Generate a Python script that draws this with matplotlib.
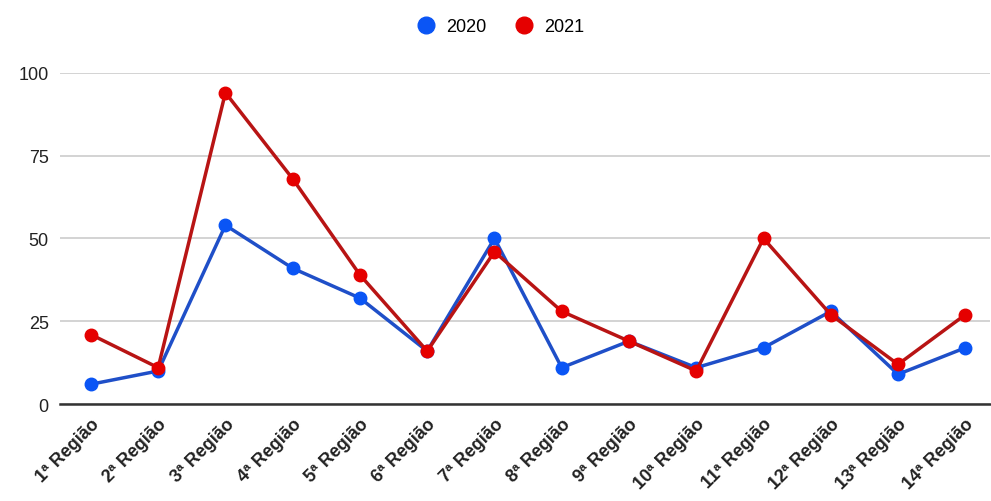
import matplotlib.pyplot as plt

regions = [f'{i}ª Região' for i in range(1, 15)]
values_2020 = [6, 10, 54, 41, 32, 16, 50, 11, 19, 11, 17, 28, 9, 17]
values_2021 = [21, 11, 94, 68, 39, 16, 46, 28, 19, 10, 50, 27, 12, 27]
y_ticks = [0, 25, 50, 75, 100]

plt.rcParams['font.family'] = ['Liberation Sans', 'DejaVu Sans']

fig = plt.figure(figsize=(9.91, 5.02), dpi=100)
ax = fig.add_axes([0.0605, 0.193, 0.938, 0.66])

x = range(len(regions))
ax.plot(x, values_2020, color='#1f4fc8', linewidth=2.5, marker='o', markersize=9,
        markerfacecolor='#0a55f5', markeredgecolor='#0a55f5', label='2020', clip_on=False, zorder=3)
ax.plot(x, values_2021, color='#b81414', linewidth=2.5, marker='o', markersize=9,
        markerfacecolor='#e50000', markeredgecolor='#e50000', label='2021', clip_on=False, zorder=4)

ax.set_xlim(-0.46, 13.36)
ax.set_ylim(0, 100)
ax.set_yticks(y_ticks)
ax.set_yticklabels([str(t) for t in y_ticks], fontsize=13, color='#222222')
ax.set_xticks(list(x))
ax.set_xticklabels(regions, rotation=45, ha='right', rotation_mode='anchor',
                   fontsize=13, fontweight='bold', color='#222222')
ax.tick_params(axis='both', length=0, pad=8)

ax.grid(axis='y', color='#cccccc', linewidth=1.2)
ax.set_axisbelow(True)
for side in ['top', 'right', 'left']:
    ax.spines[side].set_visible(False)
ax.spines['bottom'].set_color('#333333')
ax.spines['bottom'].set_linewidth(1.8)

leg = fig.legend(handles=ax.get_lines(), labels=['2020', '2021'], loc='center',
                 bbox_to_anchor=(0.505, 0.945), ncol=2, frameon=False, fontsize=13,
                 handlelength=1.0, handletextpad=0.6, columnspacing=1.6)
for h in leg.legend_handles:
    h.set_linestyle('none')
    h.set_markersize(12)

fig.savefig('out.png', dpi=100)
